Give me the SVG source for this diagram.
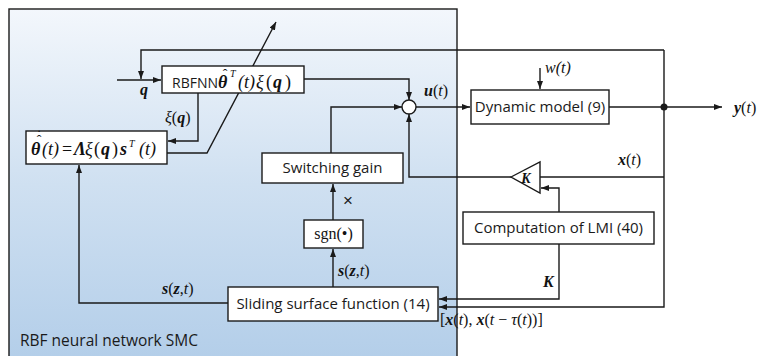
<svg xmlns="http://www.w3.org/2000/svg" width="760" height="356" viewBox="0 0 760 356">
<style>
.box{fill:#fff;stroke:#1a1a1a;stroke-width:1.4}
.ln{fill:none;stroke:#1a1a1a;stroke-width:1.4}
.ar{marker-end:url(#ah)}
.sans{font-family:"Open Sans","Liberation Sans",sans-serif;font-size:15px;fill:#1a1a1a}
.m{font-family:"Liberation Serif","Times New Roman",serif;font-size:16px;fill:#111}
.e{font-size:18px}
.bi{font-weight:bold;font-style:italic}
.it{font-style:italic}
</style>
<defs>
<linearGradient id="bg" x1="0" y1="0" x2="0" y2="1">
<stop offset="0" stop-color="#f3f7fc"/>
<stop offset="0.5" stop-color="#cfe0f1"/>
<stop offset="1" stop-color="#b3cee9"/>
</linearGradient>
<marker id="ah" viewBox="0 0 8 6" refX="8" refY="3" markerWidth="8" markerHeight="6" markerUnits="userSpaceOnUse" orient="auto">
<path d="M0,0 L8,3 L0,6 Z" fill="#1a1a1a"/>
</marker>
</defs>

<g id="panel">
<rect x="9" y="9" width="448" height="352" fill="url(#bg)" stroke="#1a1a1a" stroke-width="1.4"/>
<text class="sans" x="20" y="346" style="font-size:15.5px">RBF neural network SMC</text>
</g>

<g id="connectors">
<path class="ln ar" d="M117,80 H161"/>
<path class="ln ar" d="M664,50 H141 V79"/>
<path class="ln ar" d="M304,79 H409 V100"/>
<path class="ln ar" d="M198,93 V141 H168"/>
<path class="ln ar" d="M167,153 H207 L276,22"/>
<path class="ln ar" d="M228,303 H79 V165"/>
<path class="ln ar" d="M333,287 V249"/>
<path class="ln ar" d="M333,220 V184"/>
<path class="ln ar" d="M331,153 V107 H402"/>
<path class="ln ar" d="M416,107 H470"/>
<path class="ln ar" d="M540,68 V89"/>
<path class="ln ar" d="M609,107 H722"/>
<path class="ln ar" d="M664,50 V307 H439"/>
<path class="ln" d="M664,177 H540"/>
<path class="ln ar" d="M511,177 H409 V114"/>
<path class="ln ar" d="M559,212 V188 H541"/>
<path class="ln ar" d="M559,244 V299 H439"/>
<circle cx="664" cy="107" r="3.5" fill="#1a1a1a"/>
</g>

<g id="sum">
<circle cx="409" cy="107" r="7" fill="#fff" stroke="#1a1a1a" stroke-width="1.4"/>
</g>

<g id="rbfnn">
<rect class="box" x="162" y="66" width="142" height="27"/>
<text class="sans" x="172" y="88" style="font-size:14px">RBFNN</text>
<text class="m bi e" x="218" y="88">θ</text>
<text class="m" x="225" y="79" text-anchor="middle" style="font-size:14px">ˆ</text>
<text class="m it" x="230" y="77" style="font-size:10px">T</text>
<text class="m it e" x="238" y="88">(t)</text>
<text class="m it e" x="256" y="88">ξ</text>
<text class="m e" x="266" y="88">(</text>
<text class="m bi e" x="273" y="88">q</text>
<text class="m e" x="285" y="88">)</text>
</g>

<g id="adapt">
<rect class="box" x="26" y="131" width="141" height="33"/>
<text class="m bi e" x="31" y="155">θ</text>
<text class="m" x="39" y="145" text-anchor="middle" style="font-size:14px">ˆ</text>
<text class="m" x="39" y="140" text-anchor="middle" style="font-size:14px">˙</text>
<text class="m it e" x="42" y="155">(t)</text>
<text class="m e" x="62" y="155">=</text>
<text class="m bi e" x="74" y="155">Λ</text>
<text class="m it e" x="85" y="155">ξ</text>
<text class="m e" x="94" y="155">(</text>
<text class="m bi e" x="101" y="155">q</text>
<text class="m e" x="112" y="155">)</text>
<text class="m bi e" x="120" y="155">s</text>
<text class="m it" x="129" y="147" style="font-size:10px">T</text>
<text class="m it e" x="139" y="155">(t)</text>
</g>

<g id="switching">
<rect class="box" x="262" y="153" width="141" height="30"/>
<text class="sans" x="332.5" y="173" text-anchor="middle">Switching gain</text>
</g>

<g id="sgn">
<rect class="box" x="304" y="220" width="59" height="28"/>
<text class="m" x="333.5" y="239" text-anchor="middle">sgn(•)</text>
</g>

<g id="sliding">
<rect class="box" x="228" y="287" width="210" height="34"/>
<text class="sans" x="333" y="309" text-anchor="middle">Sliding surface function (14)</text>
</g>

<g id="dynamic">
<rect class="box" x="471" y="90" width="138" height="34"/>
<text class="sans" x="540" y="112" text-anchor="middle">Dynamic model (9)</text>
</g>

<g id="gainK">
<path d="M511,177 L540,162 L540,193 Z" fill="#fff" stroke="#1a1a1a" stroke-width="1.4"/>
<text class="m bi" x="526" y="183" style="font-size:14px" text-anchor="middle">K</text>
</g>

<g id="lmi">
<rect class="box" x="463" y="212" width="191" height="32"/>
<text class="sans" x="558.5" y="233" text-anchor="middle">Computation of LMI (40)</text>
</g>

<g id="labels">
<text class="m bi" x="140" y="95">q</text>
<text class="m" x="165" y="123"><tspan class="it">ξ</tspan>(<tspan class="bi">q</tspan>)</text>
<text class="m" x="424" y="96"><tspan class="bi">u</tspan>(<tspan class="it">t</tspan>)</text>
<text class="m it" x="545" y="73">w(t)</text>
<text class="m" x="734" y="113"><tspan class="bi">y</tspan>(<tspan class="it">t</tspan>)</text>
<text class="m" x="618" y="165"><tspan class="bi">x</tspan>(<tspan class="it">t</tspan>)</text>
<text class="m" x="338" y="276"><tspan class="bi">s</tspan>(<tspan class="bi">z</tspan>,<tspan class="it">t</tspan>)</text>
<text class="m" x="162" y="294"><tspan class="bi">s</tspan>(<tspan class="bi">z</tspan>,<tspan class="it">t</tspan>)</text>
<text class="m bi" x="543" y="287">K</text>
<text x="348" y="206" text-anchor="middle" style="font-family:'Liberation Sans',sans-serif;font-size:17px;fill:#1a1a1a">×</text>
<text class="m" x="440" y="325">[<tspan class="bi">x</tspan>(<tspan class="it">t</tspan>), <tspan class="bi">x</tspan>(<tspan class="it">t</tspan> − <tspan class="it">τ</tspan>(<tspan class="it">t</tspan>))]</text>
</g>
</svg>
